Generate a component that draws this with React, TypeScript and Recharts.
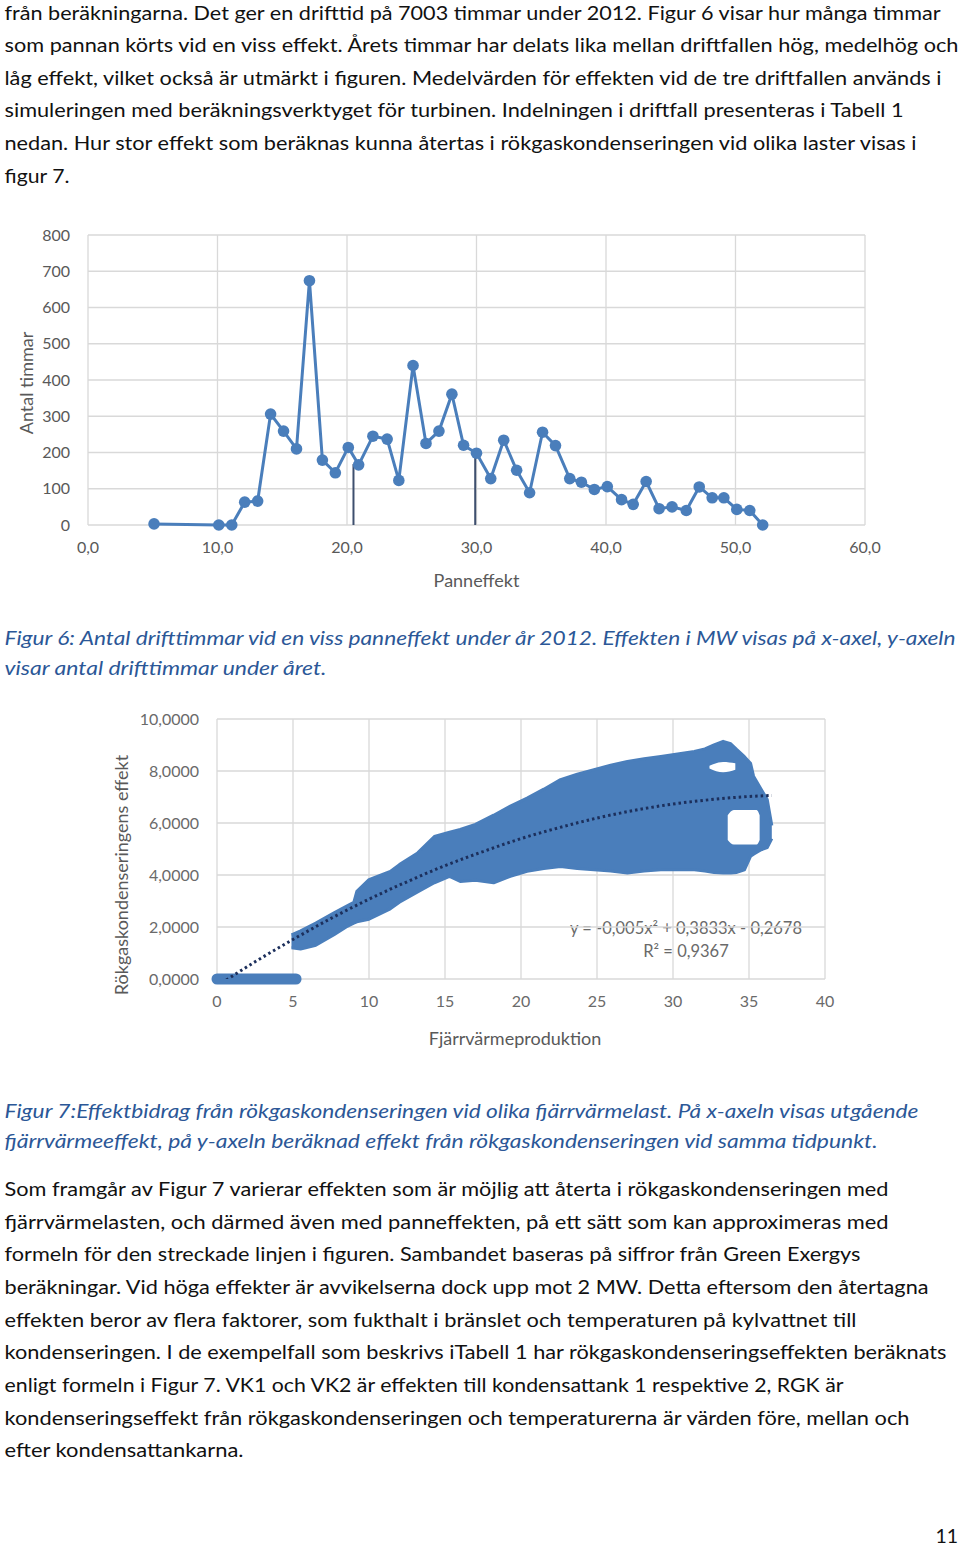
import React from 'react';
import {
  LineChart,
  Line,
  XAxis,
  YAxis,
  CartesianGrid,
  ReferenceLine,
  ComposedChart,
  Area,
} from 'recharts';

// ---------- Figur 6: drifttimmar vs panneffekt ----------
const powerX = [
  5.1, 10.1, 11.1, 12.1, 13.1, 14.1, 15.1, 16.1, 17.1, 18.1, 19.1, 20.1, 20.9, 22.0, 23.1,
  24.0, 25.1, 26.1, 27.1, 28.1, 29.0, 30.0, 31.1, 32.1, 33.1, 34.1, 35.1, 36.1, 37.2, 38.1,
  39.1, 40.1, 41.2, 42.1, 43.1, 44.1, 45.1, 46.2, 47.2, 48.2, 49.1, 50.1, 51.1, 52.1,
];
const hours = [
  3, 0, 0, 63, 66, 306, 259, 210, 674, 179, 144, 214, 166, 245, 237,
  123, 440, 225, 259, 361, 220, 198, 128, 234, 151, 89, 256, 219, 128, 118,
  98, 106, 70, 57, 120, 45, 50, 40, 105, 75, 75, 43, 40, 0,
];
const powerTicks = [0, 10, 20, 30, 40, 50, 60];
const hourTicks = [0, 100, 200, 300, 400, 500, 600, 700, 800];
// driftfall boundaries (low / medium / high)
const splitX = [20.5, 29.9];
const splitTop = [168, 198];

// ---------- Figur 7: rökgaskondensering vs fjärrvärmeproduktion ----------
const loadTicks = [0, 5, 10, 15, 20, 25, 30, 35, 40];
const rgkTicks = [0, 2, 4, 6, 8, 10];
// hours with zero condensation output
const zeroBandX = [0, 5.2];
// envelope of the point cloud
const cloudX = [
  4.9, 5.5, 6.5, 7.7, 8.5, 9.0, 9.2, 10.0, 11.4, 12.0, 13.2, 14.3, 15.3, 16.0, 17.0, 18.2,
  19.3, 20.4, 21.5, 22.6, 23.7, 24.8, 25.9, 27.0, 28.1, 29.2, 30.3, 31.4, 32.1, 32.7, 33.3,
  33.8, 34.2, 34.7, 35.1, 35.3, 35.8, 36.2, 36.5,
];
const cloudLow = [
  1.2, 1.15, 1.3, 1.7, 2.0, 2.15, 2.2, 2.3, 2.7, 2.95, 3.35, 3.7, 3.95, 3.75, 3.8, 3.7,
  3.95, 4.14, 4.25, 4.33, 4.25, 4.2, 4.15, 4.08, 4.15, 4.2, 4.2, 4.2, 4.15, 4.1, 4.08,
  4.08, 4.1, 4.2, 4.72, 4.8, 4.97, 5.05, 5.4,
];
const cloudHigh = [
  1.7, 1.85, 2.15, 2.55, 2.8, 2.95, 3.37, 3.82, 4.14, 4.4, 4.85, 5.48, 5.65, 5.75, 5.95, 6.3,
  6.65, 6.96, 7.3, 7.67, 7.88, 8.05, 8.22, 8.37, 8.47, 8.56, 8.65, 8.75, 8.85, 9.0, 9.14,
  9.05, 8.82, 8.55, 8.3, 7.8, 7.3, 6.9, 5.9,
];
// gaps inside the cloud
const gapAX = [33.6, 34.0, 35.5, 35.7];
const gapALow = [5.35, 5.17, 5.17, 5.35];
const gapAHigh = [6.3, 6.5, 6.5, 6.3];
const gapBX = [32.4, 33.3, 34.1];
const gapBLow = [8.1, 7.95, 8.05];
const gapBHigh = [8.2, 8.35, 8.3];
// polynomial trend line (dotted)
const trendX = [0, 2.5, 5, 7.5, 10, 12.5, 15, 17.5, 20, 22.5, 25, 27.5, 30, 32.5, 35, 36.5];
const trendY = [-0.27, 0.66, 1.52, 2.33, 3.07, 3.74, 4.36, 4.9, 5.4, 5.82, 6.19, 6.49, 6.73, 6.9, 7.02, 7.06];
const trendEquation = ['y = -0,005x² + 0,3833x - 0,2678', 'R² = 0,9367'];

// ---------- page text ----------
const introLines = [
  'från beräkningarna. Det ger en drifttid på 7003 timmar under 2012. Figur 6 visar hur många timmar',
  'som pannan körts vid en viss effekt. Årets timmar har delats lika mellan driftfallen hög, medelhög och',
  'låg effekt, vilket också är utmärkt i figuren. Medelvärden för effekten vid de tre driftfallen används i',
  'simuleringen med beräkningsverktyget för turbinen. Indelningen i driftfall presenteras i Tabell 1',
  'nedan. Hur stor effekt som beräknas kunna återtas i rökgaskondenseringen vid olika laster visas i',
  'figur 7.',
];
const fig6Caption = [
  'Figur 6: Antal drifttimmar vid en viss panneffekt under år 2012. Effekten i MW visas på x-axel, y-axeln',
  'visar antal drifttimmar under året.',
];
const fig7Caption = [
  'Figur 7:Effektbidrag från rökgaskondenseringen vid olika fjärrvärmelast. På x-axeln visas utgående',
  'fjärrvärmeeffekt, på y-axeln beräknad effekt från rökgaskondenseringen vid samma tidpunkt.',
];
const bodyLines = [
  'Som framgår av Figur 7 varierar effekten som är möjlig att återta i rökgaskondenseringen med',
  'fjärrvärmelasten, och därmed även med panneffekten, på ett sätt som kan approximeras med',
  'formeln för den streckade linjen i figuren. Sambandet baseras på siffror från Green Exergys',
  'beräkningar. Vid höga effekter är avvikelserna dock upp mot 2 MW. Detta eftersom den återtagna',
  'effekten beror av flera faktorer, som fukthalt i bränslet och temperaturen på kylvattnet till',
  'kondenseringen. I de exempelfall som beskrivs iTabell 1 har rökgaskondenseringseffekten beräknats',
  'enligt formeln i Figur 7. VK1 och VK2 är effekten till kondensattank 1 respektive 2, RGK är',
  'kondenseringseffekt från rökgaskondenseringen och temperaturerna är värden före, mellan och',
  'efter kondensattankarna.',
];
const pageNumber = '11';

// ---------- layout (not data) ----------
const introWidths = [936, 954, 937, 899, 912, 65];
const fig6Widths = [951, 322];
const fig7Widths = [914, 873];
const bodyWidths = [884, 884, 856, 924, 852, 942, 839, 905, 239];

const BLUE = '#4a7ebb';
const GRID = '#d9d9d9';
const AXIS_TEXT = '#595959';
const CAPTION = '#2b5797';
const FONT = 'Lato, "Open Sans", sans-serif';

const fmt1 = (v: number) => v.toFixed(1).replace('.', ',');
const fmt4 = (v: number) => v.toFixed(4).replace('.', ',');

const chart1Data = powerX.map((x, i) => ({ x, y: hours[i] }));
const cloudData = cloudX.map((x, i) => ({ x, lo: cloudLow[i], hi: cloudHigh[i] }));
const gapAData = gapAX.map((x, i) => ({ x, lo: gapALow[i], hi: gapAHigh[i] }));
const gapBData = gapBX.map((x, i) => ({ x, lo: gapBLow[i], hi: gapBHigh[i] }));
const trendData = trendX.map((x, i) => ({ x, y: trendY[i] }));

const vTitle = (text: string, dx: number, dy: number) => (props: any) => {
  const vb = props.viewBox || { x: 0, y: 0, width: 0, height: 0 };
  const cx = vb.x + dx;
  const cy = vb.y + vb.height / 2 + dy;
  return (
    <text
      x={cx}
      y={cy}
      transform={`rotate(-90 ${cx} ${cy})`}
      textAnchor="middle"
      dominantBaseline="central"
      fill={AXIS_TEXT}
      fontSize={18}
      fontFamily={FONT}
    >
      {text}
    </text>
  );
};

const hTitle = (text: string, dx: number, by: number) => (props: any) => {
  const vb = props.viewBox || { x: 0, y: 0, width: 0, height: 0 };
  return (
    <text
      x={vb.x + vb.width / 2 + dx}
      y={vb.y + by}
      textAnchor="middle"
      fill={AXIS_TEXT}
      fontSize={18}
      fontFamily={FONT}
    >
      {text}
    </text>
  );
};

const TextBlock = ({
  lines,
  widths,
  firstBaseline,
  step,
  italic,
  color,
}: {
  lines: string[];
  widths: number[];
  firstBaseline: number;
  step: number;
  italic?: boolean;
  color: string;
}) => (
  <g>
    {lines.map((t, i) => (
      <text
        key={i}
        x={4.5}
        y={firstBaseline + i * step}
        textLength={widths[i]}
        lengthAdjust="spacingAndGlyphs"
        fontFamily={FONT}
        fontSize={19.5}
        fontStyle={italic ? 'italic' : 'normal'}
        fill={color}
      >
        {t}
      </text>
    ))}
  </g>
);

export default function App() {
  const tick1 = { fill: AXIS_TEXT, fontSize: 16, fontFamily: FONT };
  const tick2 = { fill: '#6a6a6a', fontSize: 16, fontFamily: FONT };
  return (
    <div
      style={{
        position: 'absolute',
        left: 0,
        top: 0,
        width: 960,
        height: 1547,
        background: '#ffffff',
        overflow: 'hidden',
      }}
    >
      <svg
        width={960}
        height={1547}
        style={{ position: 'absolute', left: 0, top: 0 }}
      >
        <TextBlock lines={introLines} widths={introWidths} firstBaseline={19.5} step={32.6} color="#111" />
        <TextBlock lines={fig6Caption} widths={fig6Widths} firstBaseline={645} step={30} italic color={CAPTION} />
        <TextBlock lines={fig7Caption} widths={fig7Widths} firstBaseline={1118} step={29.5} italic color={CAPTION} />
        <TextBlock lines={bodyLines} widths={bodyWidths} firstBaseline={1196} step={32.65} color="#111" />
        <text x={958} y={1543} textAnchor="end" fontFamily={FONT} fontSize={19.5} fill="#111">
          {pageNumber}
        </text>
        {trendEquation.map((t, i) => (
          <text
            key={i}
            x={686}
            y={934 + i * 23}
            textAnchor="middle"
            fontFamily={FONT}
            fontSize={16.5}
            fill="#6a6a6a"
          >
            {t}
          </text>
        ))}
      </svg>

      {/* Figur 6 */}
      <div style={{ position: 'absolute', left: 0, top: 215 }}>
        <LineChart
          width={900}
          height={385}
          data={chart1Data}
          margin={{ top: 20, right: 35, left: 0, bottom: 0 }}
        >
          <CartesianGrid stroke={GRID} strokeWidth={1.3} />
          <XAxis
            type="number"
            dataKey="x"
            domain={[0, 60]}
            ticks={powerTicks}
            interval={0}
            tickFormatter={fmt1}
            axisLine={false}
            tickLine={false}
            tickSize={0}
            tickMargin={17}
            height={75}
            tick={tick1}
            label={hTitle('Panneffekt', 0, 62)}
          />
          <YAxis
            type="number"
            domain={[0, 800]}
            ticks={hourTicks}
            interval={0}
            width={88}
            axisLine={false}
            tickLine={false}
            tickSize={0}
            tickMargin={18}
            tick={tick1}
            label={vTitle('Antal timmar', 26, 3)}
          />
          {splitX.map((sx, i) => (
            <ReferenceLine
              key={i}
              segment={[
                { x: sx, y: 0 },
                { x: sx, y: splitTop[i] },
              ]}
              stroke="#3e4f6e"
              strokeWidth={2}
            />
          ))}
          <Line
            dataKey="y"
            type="linear"
            stroke={BLUE}
            strokeWidth={3}
            dot={{ r: 5.8, fill: BLUE, stroke: BLUE, strokeWidth: 0 }}
            activeDot={false}
            isAnimationActive={false}
          />
        </LineChart>
      </div>

      {/* Figur 7 */}
      <div style={{ position: 'absolute', left: 0, top: 700 }}>
        <ComposedChart width={860} height={360} margin={{ top: 19, right: 35, left: 0, bottom: 0 }}>
          <CartesianGrid stroke={GRID} strokeWidth={1.3} />
          <XAxis
            type="number"
            dataKey="x"
            domain={[0, 40]}
            ticks={loadTicks}
            interval={0}
            axisLine={false}
            tickLine={false}
            tickSize={0}
            tickMargin={17}
            height={81}
            tick={tick2}
            label={hTitle('Fjärrvärmeproduktion', -6, 66)}
          />
          <YAxis
            type="number"
            domain={[0, 10]}
            ticks={rgkTicks}
            interval={0}
            allowDataOverflow
            tickFormatter={fmt4}
            width={217}
            axisLine={false}
            tickLine={false}
            tickSize={0}
            tickMargin={18}
            tick={tick2}
            label={vTitle('Rökgaskondenseringens effekt', 121, 26)}
          />
          <ReferenceLine
            segment={[
              { x: zeroBandX[0], y: 0 },
              { x: zeroBandX[1], y: 0 },
            ]}
            stroke={BLUE}
            strokeWidth={11}
            strokeLinecap="round"
          />
          <Area
            data={cloudData}
            dataKey={(d: any) => [d.lo, d.hi]}
            type="linear"
            fill={BLUE}
            fillOpacity={1}
            stroke={BLUE}
            strokeWidth={3}
            strokeLinejoin="round"
            dot={false}
            activeDot={false}
            isAnimationActive={false}
          />
          <Area
            data={gapAData}
            dataKey={(d: any) => [d.lo, d.hi]}
            type="monotone"
            fill="#ffffff"
            fillOpacity={1}
            stroke="none"
            dot={false}
            activeDot={false}
            isAnimationActive={false}
          />
          <Area
            data={gapBData}
            dataKey={(d: any) => [d.lo, d.hi]}
            type="monotone"
            fill="#ffffff"
            fillOpacity={1}
            stroke="none"
            dot={false}
            activeDot={false}
            isAnimationActive={false}
          />
          <Line
            data={trendData}
            dataKey="y"
            type="monotone"
            stroke="#1c2f5c"
            strokeWidth={3}
            strokeDasharray="2.5 3"
            dot={false}
            activeDot={false}
            isAnimationActive={false}
          />
        </ComposedChart>
      </div>
    </div>
  );
}
